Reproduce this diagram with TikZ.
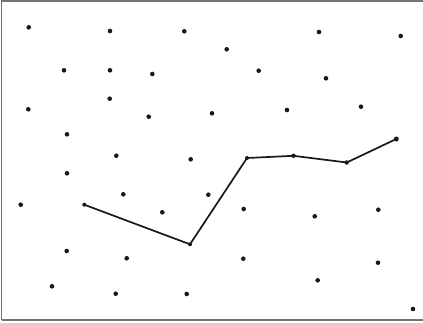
\documentclass[tikz,border=0pt]{standalone}
\begin{document}
\begin{tikzpicture}[x=1pt,y=-1pt,
  dot/.style={circle,fill=black!90,inner sep=0pt,minimum size=4.6pt},
  frame/.style={draw=black!55,line width=1.6pt},
  path/.style={draw=black!90,line width=1.7pt,line join=round}]
\useasboundingbox (0,0) rectangle (423,322);
\fill[white] (0,0) rectangle (423,322);
\draw[frame] (1.5,320) -- (1.5,1) -- (424,1);
\draw[frame] (1.5,320) -- (424,320);
% dots
\foreach \n/\x/\y in {a1/28.7/27.3, a2/110/31, a3/184.3/31.3, a4/64/70.3, a5/110/70.3, a6/152.3/74,
  a7/109.7/98.7, a8/28.3/109.3, a9/148.7/116.7, a10/212/113.3, a11/67/134.3, a12/116.3/155.7,
  a13/190.7/159.3, b1/319/32, b2/400.7/36, b3/226.7/49.3, b4/258.7/70.7, b5/326/78.3,
  b6/287/110, b7/361/106.7, c1/67/173.3, c2/20.7/204.7, c3/123.3/194.3, c4/208.3/194.7,
  c5/162.3/212.3, c6/66.7/251, c7/126.7/258.3, c8/52/286.3, c9/115.7/293.7, c10/186.7/294,
  d1/243.7/209, d2/314.7/216.3, d3/378.3/209.7, d4/243.3/258.7, d5/378/262.7, d6/317.7/280.3,
  d7/413/309}
  \node[dot] (\n) at (\x,\y) {};
% polyline vertices
\node[dot,minimum size=4pt] (p1) at (84.3,204.7) {};
\node[dot,minimum size=4pt] (p2) at (190,244.3) {};
\node[dot,minimum size=4pt] (p3) at (247,158) {};
\node[dot,minimum size=4.4pt] (p4) at (293.5,155.8) {};
\node[dot,minimum size=4.4pt] (p5) at (346.7,162.5) {};
\node[dot,minimum size=5pt] (p6) at (396.3,139) {};
\draw[path] (p1.center) -- (p2.center) -- (p3.center) -- (p4.center) -- (p5.center) -- (p6.center);
\end{tikzpicture}
\end{document}
